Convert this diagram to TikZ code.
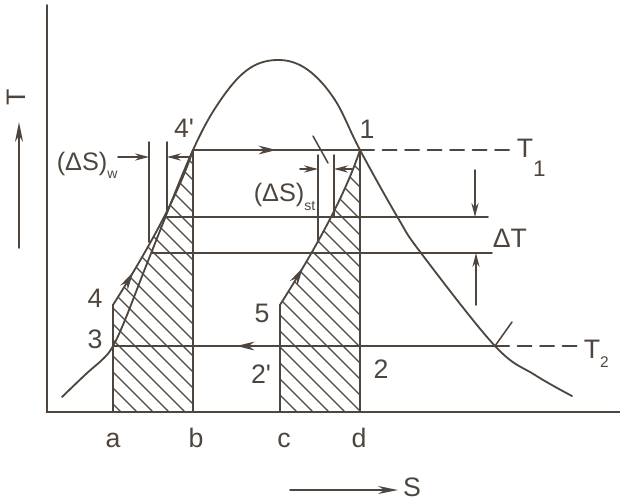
\documentclass[tikz,border=0pt]{standalone}
\usepackage{fontspec}
\setmainfont{Liberation Sans}
\usetikzlibrary{arrows.meta,decorations.markings}
\definecolor{Ink}{RGB}{78,70,62}

\begin{document}
\begin{tikzpicture}[x=0.025cm,y=-0.025cm,color=Ink,line width=1.1pt,line cap=round,
lbl/.style={font=\fontsize{19}{22}\selectfont,inner sep=0pt,anchor=base},
dlbl/.style={lbl,font=\fontsize{18}{20}\selectfont,anchor=base west},
cyc/.style={line width=1.3pt},
flow/.style={postaction={decorate},decoration={markings,mark=at position #1 with {\arrow{Stealth[length=4.5mm,width=2.2mm]}}}},
tip/.style={-{Stealth[length=3.5mm,width=1.8mm]}},
axtip/.style={-{Stealth[length=5mm,width=2mm]}},
hatch/.style={line width=0.9pt},
brk/.style={dash pattern=on 10pt off 6pt}
]
\useasboundingbox (0,0) rectangle (620,501);
% state points (pixel grid)
\coordinate (o) at (47,412);
\coordinate (p1) at (360,150);
\coordinate (p4p) at (193,150);
\coordinate (p3) at (113,346);
\coordinate (p4) at (113,305);
\coordinate (p5) at (280,305);
\coordinate (p2p) at (280,346);
\coordinate (p2) at (360,346);
\coordinate (q2) at (495,346);
\coordinate (a) at (113,412);
\coordinate (b) at (193,412);
\coordinate (c) at (280,412);
\coordinate (d) at (360,412);
\coordinate (t1) at (512,150);
\coordinate (t2) at (578,346);

% hatched areas
\begin{scope}
\clip (a) -- (p4) .. controls (135,270) and (175,205) .. (p4p) -- (b) -- cycle
      (c) -- (p5) .. controls (302,270) and (342,205) .. (p1) -- (d) -- cycle;
\foreach \x in {105,121,...,640} \draw[hatch] (\x,412) -- ++(-320,-320);
\end{scope}

% axes
\draw (47,5) -- (o) -- (620,412);
\draw[axtip] (19,248) -- (19,122);
\node[lbl,rotate=90,anchor=center] (tl) at (16,97) {T};
\draw[axtip] (290,490) -- (398,490);
\node[lbl,anchor=center] (sl) at (412,487) {S};

% saturation dome
\draw[cyc] plot[smooth,tension=0.6] coordinates {(62,397) (86,374) (104,358) (113,346) (125,320) (150,256) (193,150) (222,98) (250,68) (280,60) (308,70) (335,100) (360,150) (398,218) (421,253) (495,346) (535,375) (572,396)};

% cycle
\draw[cyc,flow=0.5] (p4p) -- (p1);
\draw[cyc,brk] (p1) -- (t1);
\draw[cyc] (a) -- (p4);
\draw[cyc,flow=0.22] (p4) .. controls (135,270) and (175,205) .. (p4p);
\draw[cyc] (b) -- (p4p);
\draw[cyc] (c) -- (p5);
\draw[cyc,flow=0.25] (p5) .. controls (302,270) and (342,205) .. (p1);
\draw[cyc] (d) -- (p1);
\draw[cyc,flow=0.5] (p2) -- (p3);
\draw[cyc] (p2) -- (q2);
\draw[cyc,brk] (q2) -- (t2);
\draw (313,136) -- (328,163);
\draw (q2) -- (512,322);

% Delta s and Delta T marks
\draw (149,142) -- (149,242);
\draw (167,142) -- (167,213);
\draw[tip] (118,157) -- (149,157);
\draw[tip] (190,157) -- (167,157);
\draw (318,155) -- (318,242);
\draw (334,155) -- (334,216);
\draw[tip] (300,169) -- (318,169);
\draw[tip] (352,169) -- (334,169);
\draw (165,217) -- (488,217);
\draw (152,253) -- (492,253);
\draw[tip] (475,170) -- (475,217);
\draw[tip] (476,305) -- (476,253);

% labels
\node[lbl] (l4p) at (184,137) {4\textquotesingle};
\node[lbl] (l1) at (367,138) {1};
\node[lbl] (l4) at (95,307) {4};
\node[lbl] (l3) at (95,348) {3};
\node[lbl] (l5) at (262,322) {5};
\node[lbl] (l2p) at (261,383) {2\textquotesingle};
\node[lbl] (l2) at (381,378) {2};
\node[lbl] (la) at (113,447) {a};
\node[lbl] (lb) at (196,447) {b};
\node[lbl] (lc) at (284,447) {c};
\node[lbl] (ld) at (359,447) {d};
\node[lbl,anchor=base west] (lt1) at (516,157) {T\raisebox{-14pt}{\fontsize{16}{16}\selectfont 1}};
\node[lbl,anchor=base west] (lt2) at (583,358) {T\raisebox{-7pt}{\fontsize{11}{11}\selectfont 2}};
\node[lbl,anchor=base west] (ldt) at (492,247) {ΔT};
\node[dlbl] (ldw) at (56,170) {(ΔS)\raisebox{-6pt}{\fontsize{10}{10}\selectfont w}};
\node[dlbl] (lds) at (253,201) {(ΔS)\raisebox{-7pt}{\fontsize{10}{10}\selectfont st}};
\end{tikzpicture}
\end{document}
